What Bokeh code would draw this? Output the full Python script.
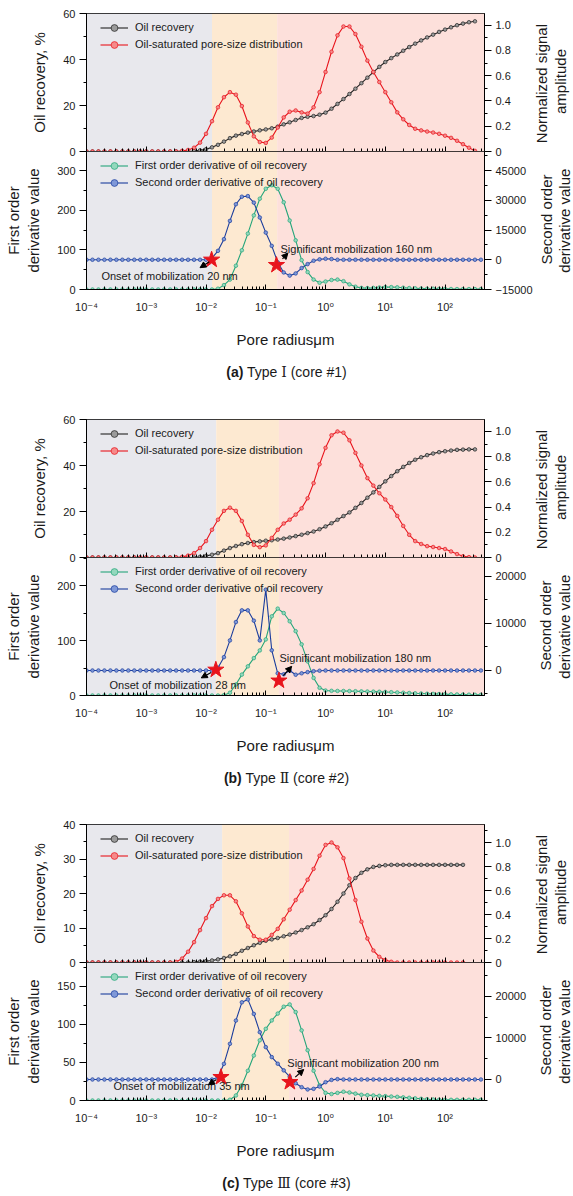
import math
import numpy as np
from bokeh.plotting import figure
from bokeh.models import (Range1d, LinearAxis, SingleIntervalTicker, FixedTicker, BoxAnnotation,
                          Legend, LegendItem, Arrow, NormalHead, CustomJSTickFormatter,
                          PrintfTickFormatter, Div)
from bokeh.layouts import column
from bokeh.embed import file_html
from bokeh.resources import INLINE
from bokeh.core.properties import value

N = None
# pore radius grid, log10(um)
LOG_R = [-4.0, -3.9, -3.8, -3.7, -3.6, -3.5, -3.4, -3.3, -3.2, -3.1,
         -3.0, -2.9, -2.8, -2.7, -2.6, -2.5, -2.4, -2.3, -2.2, -2.1,
         -2.0, -1.9, -1.8, -1.7, -1.6, -1.5, -1.4, -1.3, -1.2, -1.1,
         -1.0, -0.9, -0.8, -0.7, -0.6, -0.5, -0.4, -0.3, -0.2, -0.1,
         0.0, 0.1, 0.2, 0.3, 0.4, 0.5, 0.6, 0.7, 0.8, 0.9,
         1.0, 1.1, 1.2, 1.3, 1.4, 1.5, 1.6, 1.7, 1.8, 1.9,
         2.0, 2.1, 2.2, 2.3, 2.4, 2.5, 2.6]

# ---- core #1 ----
OR_A = [0, 0, 0, 0, 0, 0, 0, 0, 0, 0,
        0, 0, 0, 0, 0, 0, 0, 0, 0.2, 0.5,
        1.0, 1.8, 2.9, 4.3, 5.8, 6.9, 7.6, 8.2, 8.7, 9.2,
        9.6, 10.1, 10.8, 11.8, 12.7, 13.7, 14.6, 15.1, 15.4, 16.0,
        16.9, 18.6, 20.7, 22.8, 25.0, 27.3, 29.7, 32.1, 34.5, 36.8,
        38.9, 40.6, 42.2, 43.8, 45.4, 46.9, 48.3, 49.6, 50.8, 52.0,
        53.0, 54.0, 54.9, 55.6, 56.2, 56.6, N]
PSD_A = [0, 0, 0, 0, 0, 0, 0, 0, 0, 0,
         0, 0, 0, 0, 0, 0, 0.005, 0.012, 0.03, 0.07,
         0.14, 0.24, 0.35, 0.43, 0.47, 0.45, 0.36, 0.23, 0.12, 0.075,
         0.068, 0.11, 0.19, 0.27, 0.315, 0.325, 0.31, 0.30, 0.35, 0.47,
         0.63, 0.79, 0.92, 0.99, 0.99, 0.93, 0.83, 0.72, 0.63, 0.55,
         0.47, 0.39, 0.31, 0.255, 0.21, 0.18, 0.167, 0.158, 0.15, 0.14,
         0.125, 0.108, 0.085, 0.058, 0.03, 0.005, N]
D1_A = [0, 0, 0, 0, 0, 0, 0, 0, 0, 0,
        0, 0, 0, 0, 0, 0, 0, 0, 0, 0,
        0, 0, 2, 11, 25, 60, 99, 141, 187, 229,
        254, 263, 254, 220, 174, 124, 74, 44, 25, 17,
        20, 24, 25, 21, 13, 7, 4, 3.5, 4, 5,
        6, 6, 5.5, 4.5, 3.5, 3, 2.5, 2, 2, 1.5,
        1.5, 1.2, 1.0, 1.0, 1.0, 1.0, 1.0]
D2_A = [0, 0, 0, 0, 0, 0, 0, 0, 0, 0,
        0, 0, 0, 0, 0, 0, 0, 0, 0, 0,
        0, 840, 4500, 10400, 19600, 28000, 31800, 32100, 28800, 21300,
        13700, 7000, -1300, -6400, -8000, -6900, -4200, -2200, -500, 200,
        500, 350, 0, 0, 0, 0, 0, 0, 0, 0,
        0, 0, 0, 0, 0, 0, 0, 0, 0, 0,
        0, 0, 0, 0, 0, 0, 0]

# ---- core #2 ----
OR_B = [0, 0, 0, 0, 0, 0, 0, 0, 0, 0,
        0, 0, 0, 0, 0, 0, 0, 0, 0, 0.3,
        0.7, 1.2, 1.9, 3.0, 4.1, 5.0, 5.8, 6.3, 6.7, 7.0,
        7.3, 7.5, 7.8, 8.2, 8.7, 9.3, 9.9, 10.6, 11.3, 12.3,
        13.5, 14.9, 16.4, 18.0, 19.6, 21.6, 23.7, 26.0, 28.3, 30.7,
        33.1, 35.4, 37.5, 39.4, 41.1, 42.5, 43.6, 44.5, 45.2, 45.8,
        46.2, 46.5, 46.8, 46.9, 47.0, 47.0, N]
PSD_B = [0, 0, 0, 0, 0, 0, 0, 0, 0, 0,
         0, 0, 0, 0, 0, 0, 0.005, 0.015, 0.035, 0.075,
         0.13, 0.22, 0.30, 0.37, 0.395, 0.37, 0.29, 0.18, 0.10, 0.082,
         0.096, 0.155, 0.22, 0.27, 0.30, 0.34, 0.39, 0.47, 0.59, 0.74,
         0.87, 0.97, 1.0, 0.99, 0.93, 0.83, 0.73, 0.63, 0.57, 0.51,
         0.46, 0.40, 0.33, 0.25, 0.18, 0.13, 0.107, 0.09, 0.083, 0.075,
         0.067, 0.048, 0.027, 0.01, 0.003, 0.0, N]
D1_B = [0, 0, 0, 0, 0, 0, 0, 0, 0, 0,
        0, 0, 0, 0, 0, 0, 0, 0, 0, 0,
        0, 0, 0, 0.6, 5, 20, 38, 53, 68, 82,
        102, 144, 158, 150, 135, 117, 93, 62, 32, 14,
        9, 8.5, 8.3, 8.2, 8.0, 7.8, 7.5, 7.2, 7.0, 6.8,
        6.5, 6.0, 5.5, 5.0, 4.5, 4.0, 3.6, 3.2, 2.9, 2.6,
        2.4, 2.1, 1.9, 1.7, 1.5, 1.3, 1.2]
D2_B = [0, 0, 0, 0, 0, 0, 0, 0, 0, 0,
        0, 0, 0, 0, 0, 0, 0, 0, 0, 0,
        0, 0, 570, 2840, 6400, 10300, 12800, 12800, 10600, 6400,
        17200, 4300, -600, -800, 0, -900, -600, -350, -150, -50,
        0, 0, 0, 0, 0, 0, 0, 0, 0, 0,
        0, 0, 0, 0, 0, 0, 0, 0, 0, 0,
        0, 0, 0, 0, 0, 0, 0]

# ---- core #3 ----
OR_C = [0, 0, 0, 0, 0, 0, 0, 0, 0, 0,
        0, 0, 0, 0, 0, 0, 0, 0, 0.1, 0.25,
        0.4, 0.6, 0.9, 1.3, 1.8, 2.5, 3.4, 4.2, 5.0, 5.7,
        6.3, 6.7, 7.1, 7.6, 8.1, 8.7, 9.4, 10.2, 11.1, 12.3,
        13.7, 15.5, 17.6, 20.0, 22.4, 24.5, 26.0, 27.0, 27.7, 28.0,
        28.2, 28.3, 28.3, 28.3, 28.3, 28.3, 28.3, 28.3, 28.3, 28.3,
        28.3, 28.3, 28.3, 28.3, N, N, N]
PSD_C = [0, 0, 0, 0, 0, 0, 0, 0, 0, 0,
         0, 0, 0, 0, 0, 0.005, 0.033, 0.09, 0.17, 0.27,
         0.37, 0.47, 0.53, 0.56, 0.56, 0.51, 0.41, 0.30, 0.22, 0.19,
         0.19, 0.23, 0.28, 0.36, 0.44, 0.52, 0.60, 0.69, 0.78, 0.89,
         0.98, 1.0, 0.96, 0.87, 0.70, 0.52, 0.34, 0.20, 0.10, 0.047,
         0.02, 0.006, 0, 0, 0, 0, 0, 0, 0, 0,
         0, 0, 0, 0, N, N, N]
D1_C = [0, 0, 0, 0, 0, 0, 0, 0, 0, 0,
        0, 0, 0, 0, 0, 0, 0, 0, 0, 0,
        0, 0, 0, 0, 1, 6.6, 20, 39, 59, 79,
        94, 105, 114, 123, 126, 116, 92, 66, 39, 20,
        10, 8.5, 10, 11.5, 10.5, 9, 7.5, 7, 6.6, 6.1,
        5.7, 5.2, 4.8, 4.1, 3.5, 2.8, 2.2, 1.7, 1.3, 1.0,
        0.9, 0.9, 0.9, 0.9, 0.9, 0.9, 0.9]
D2_C = [0, 0, 0, 0, 0, 0, 0, 0, 0, 0,
        0, 0, 0, 0, 0, 0, 0, 0, 0, 0,
        0, 0, 560, 3780, 8600, 14200, 18600, 19300, 15800, 11400,
        7800, 5400, 3800, 2200, 700, -900, -1850, -2400, -2250, -1700,
        -650, -100, 80, 0, 0, 0, 0, 0, 0, 0,
        0, 0, 0, 0, 0, 0, 0, 0, 0, 0,
        0, 0, 0, 0, 0, 0, 0]

# zone boundaries (um), star points (x um, second-derivative value)
ZONE_A = [0.0126, 0.155]
ZONE_B = [0.0148, 0.166]
ZONE_C = [0.0186, 0.245]
STAR_A_X = [0.0124, 0.151]
STAR_A_Y = [0, -2700]
STAR_B_X = [0.0146, 0.166]
STAR_B_Y = [150, -2170]
STAR_C_X = [0.0178, 0.253]
STAR_C_Y = [570, -640]
NOTES_A = ["Onset of mobilization 20 nm", "Significant mobilization 160 nm"]
NOTES_B = ["Onset of mobilization 28 nm", "Significant mobilization 180 nm"]
NOTES_C = ["Onset of mobilization 35 nm", "Significant mobilization 200 nm"]

FONT = "Liberation Sans"
X_MAX = 457
MAJOR_X = [1e-4, 1e-3, 1e-2, 1e-1, 1, 10, 100]
MINOR_X = [k * 10.0 ** d for d in range(-4, 3) for k in range(2, 10) if k * 10.0 ** d < X_MAX]
GRAY, ORANGE, PINK = "#e8e8ed", "#fde9d1", "#fde0db"
C_BLACK, F_BLACK = "#222222", "#9b9b9b"
C_RED, F_RED = "#e8141c", "#f58a8a"
C_GREEN, F_GREEN = "#25a57a", "#93d8bd"
C_BLUE, F_BLUE = "#1b3d9d", "#7f98d8"
TXT = "#1a1a1a"
NB = "\u00a0"
PAGE_W = 573
EXTRA = 40          # empty slack right of the window so the right-axis title keeps the frame width
FIG_W = PAGE_W + EXTRA

x = 10.0 ** np.array(LOG_R)

_props = LinearAxis.properties()
CAN_ORIENT = "axis_label_orientation" in _props and "axis_label_align" in _props


def arr(v):
    return np.array([np.nan if a is None else a for a in v], dtype=float)


SUP_JS = """
const e = Math.round(Math.log10(tick));
const sup = {'-': '\u207b', '0': '\u2070', '1': '\u00b9', '2': '\u00b2', '3': '\u00b3',
             '4': '\u2074', '5': '\u2075', '6': '\u2076', '7': '\u2077', '8': '\u2078', '9': '\u2079'};
return '10' + String(e).split('').map(c => sup[c]).join('');
"""


def base(height, top, bottom, y_end, r_range, margin=None):
    kw = dict(width=FIG_W, height=height, x_axis_type="log", x_range=Range1d(1e-4, X_MAX),
              y_range=Range1d(0, y_end), output_backend="svg", toolbar_location=None,
              min_border_left=86, min_border_right=89 + EXTRA,
              min_border_top=top, min_border_bottom=bottom)
    if margin is not None:
        kw["margin"] = margin
    p = figure(**kw)
    p.extra_y_ranges = {"r": Range1d(*r_range)}
    p.grid.visible = False
    p.outline_line_color = "black"
    p.outline_line_alpha = 1.0
    p.outline_line_width = 1
    p.border_fill_color = None
    p.background_fill_color = "white"
    return p


def zones(p, z):
    for l, r, c in [(1e-4, z[0], GRAY), (z[0], z[1], ORANGE), (z[1], X_MAX, PINK)]:
        p.add_layout(BoxAnnotation(left=l, right=r, fill_color=c, fill_alpha=1.0,
                                   line_color=None, level="underlay"))


def style(ax):
    ax.axis_line_color = "black"
    ax.major_tick_line_color = "black"
    ax.minor_tick_line_color = "black"
    ax.major_label_text_font = FONT
    ax.major_label_text_font_size = "11px"
    ax.major_label_text_color = TXT
    ax.axis_label_text_font = FONT
    ax.axis_label_text_font_size = "15px"
    ax.axis_label_text_font_style = "normal"
    ax.axis_label_text_color = TXT


def y_axes(p, step_l, step_r, label, r_lines, r_pad, r_standoff, overrides, r_fmt=None):
    ax = p.yaxis[0]
    style(ax)
    ax.ticker = SingleIntervalTicker(interval=step_l, num_minor_ticks=2)
    ax.major_tick_out, ax.major_tick_in = 7, 0
    ax.minor_tick_out, ax.minor_tick_in = 3, 0
    ax.major_label_standoff = 4
    ax.axis_label = label
    ax.axis_label_standoff = 12
    ra = LinearAxis(y_range_name="r", ticker=SingleIntervalTicker(interval=step_r, num_minor_ticks=2),
                    major_label_overrides=overrides)
    if r_fmt is not None:
        ra.formatter = r_fmt
    style(ra)
    ra.major_tick_out, ra.major_tick_in = 7, 0
    ra.minor_tick_out, ra.minor_tick_in = 3, 0
    ra.major_label_standoff = 4
    ra.axis_label_text_line_height = 1.1
    if CAN_ORIENT:
        # reads bottom-to-top like the reference; lines start at the frame bottom
        ra.axis_label = "\n".join(NB * n + s for s, n in zip(r_lines, r_pad))
        ra.axis_label_orientation = math.pi / 2
        ra.axis_label_align = "start"
        ra.axis_label_standoff = r_standoff
    else:
        ra.axis_label = "\n".join(r_lines)
        ra.axis_label_standoff = 8
    p.add_layout(ra, "right")


def series(p, yv, color, fill, rname="default"):
    ya = arr(yv)
    l = p.line(x, ya, line_color=color, line_width=1.1, y_range_name=rname)
    s = p.scatter(x, ya, size=3.6, fill_color=fill, line_color=color, line_width=0.7, y_range_name=rname)
    return [l, s]


def legend(p, items):
    lg = Legend(items=[LegendItem(label=t, renderers=r) for t, r in items],
                location=(14, 98.5), padding=0, margin=0, spacing=0,
                glyph_width=28, glyph_height=17, label_height=17, label_standoff=7,
                label_text_font=FONT, label_text_font_size="11px", label_text_color=TXT,
                border_line_color=None, background_fill_alpha=0)
    p.add_layout(lg)


def caption(tag, numeral, core, height):
    html = ('<div style="width:573px;text-align:center;font-family:\'Liberation Sans\',sans-serif;'
            'font-size:14px;line-height:18px;padding-top:12px;color:#1a1a1a">'
            '<b>%s</b> Type <span style="font-family:\'DejaVu Serif\',\'Liberation Serif\',serif">%s</span>'
            ' (%s)</div>' % (tag, numeral, core))
    return Div(text=html, width=PAGE_W, height=height, margin=(0, 0, 0, 0))


PAIRS = [
    dict(tag="(a)", num="\u2160", core="core #1", oil=OR_A, psd=PSD_A, d1=D1_A, d2=D2_A,
         tl=(60, 20), tr=1.093, bl=(348, 100), br=(-15000, 54600, 15000), rs=20,
         zone=ZONE_A, sx=STAR_A_X, sy=STAR_A_Y, notes=NOTES_A,
         note_pos=[(10 ** -3.75, 35), (10 ** -0.754, 101)],
         arrows=[((10 ** -1.945, 70), (10 ** -2.10, 55)), ((10 ** -0.72, 77), (10 ** -0.63, 92))],
         cap_h=55),
    dict(tag="(b)", num="\u2161", core="core #2", oil=OR_B, psd=PSD_B, d1=D1_B, d2=D2_B,
         tl=(60, 20), tr=1.095, bl=(251, 100), br=(-5320, 24040, 10000), rs=26,
         zone=ZONE_B, sx=STAR_B_X, sy=STAR_B_Y, notes=NOTES_B,
         note_pos=[(10 ** -3.615, 18.2), (10 ** -0.77, 67.3)],
         arrows=[((10 ** -1.915, 42), (10 ** -2.08, 32)), ((10 ** -0.707, 36), (10 ** -0.567, 53))],
         cap_h=54),
    dict(tag="(c)", num="\u2162", core="core #3", oil=OR_C, psd=PSD_C, d1=D1_C, d2=D2_C,
         tl=(40, 10), tr=1.15, bl=(181, 50), br=(-5060, 28190, 10000), rs=26,
         zone=ZONE_C, sx=STAR_C_X, sy=STAR_C_Y, notes=NOTES_C,
         note_pos=[(10 ** -3.55, 18.5), (10 ** -0.64, 49.8)],
         arrows=[((10 ** -1.825, 27.6), (10 ** -1.96, 20.6)), ((10 ** -0.506, 30.6), (10 ** -0.365, 40.7))],
         cap_h=34),
]

items = []
for cfg in PAIRS:
    # ---------- top panel ----------
    t = base(158, 13, 7, cfg["tl"][0], (0, cfg["tr"]))
    zones(t, cfg["zone"])
    y_axes(t, cfg["tl"][1], 0.2, "Oil recovery, %", ["Normalized signal", "amplitude"], [2, 9], 37,
           {0: "0"}, PrintfTickFormatter(format="%.1f"))
    xa = t.xaxis[0]
    style(xa)
    xa.ticker = FixedTicker(ticks=MAJOR_X, minor_ticks=MINOR_X)
    xa.formatter = CustomJSTickFormatter(code="return '';")
    xa.major_label_text_font_size = "0px"
    xa.major_label_standoff = 0
    xa.major_tick_in, xa.major_tick_out = 5, 0
    xa.minor_tick_in, xa.minor_tick_out = 3, 0
    r_oil = series(t, cfg["oil"], C_BLACK, F_BLACK)
    r_psd = series(t, cfg["psd"], C_RED, F_RED, "r")
    legend(t, [("Oil recovery", r_oil), ("Oil-saturated pore-size distribution", r_psd)])

    # ---------- bottom panel ----------
    b = base(200, 0, 62, cfg["bl"][0], cfg["br"][:2], margin=(-7, 0, 0, 0))
    zones(b, cfg["zone"])
    ov = {-15000: "\u221215000"} if cfg["br"][0] <= -15000 else {}
    y_axes(b, cfg["bl"][1], cfg["br"][2], "First order\nderivative value",
           ["Second order", "derivative value"], [6, 4], cfg["rs"], ov)
    xb = b.xaxis[0]
    style(xb)
    xb.ticker = FixedTicker(ticks=MAJOR_X, minor_ticks=MINOR_X)
    xb.formatter = CustomJSTickFormatter(code=SUP_JS)
    xb.major_label_text_font = "Liberation Sans, DejaVu Sans"
    xb.major_tick_in, xb.major_tick_out = 5, 0
    xb.minor_tick_in, xb.minor_tick_out = 3, 0
    xb.major_label_standoff = 11
    xb.axis_label = "Pore radius\u03bcm"
    xb.axis_label_standoff = 15
    r_d1 = series(b, cfg["d1"], C_GREEN, F_GREEN)
    r_d2 = series(b, cfg["d2"], C_BLUE, F_BLUE, "r")
    legend(b, [("First order derivative of oil recovery", r_d1),
               ("Second order derivative of oil recovery", r_d2)])
    b.scatter(cfg["sx"], cfg["sy"], marker="star", size=17, fill_color=C_RED, line_color=C_RED,
              y_range_name="r")
    for (x0, y0), (x1, y1) in cfg["arrows"]:
        b.add_layout(Arrow(end=NormalHead(size=6, fill_color="black", line_color="black", line_width=1),
                           x_start=x0, y_start=y0, x_end=x1, y_end=y1,
                           line_color="black", line_width=1.2))
    b.text(x=[q[0] for q in cfg["note_pos"]], y=[q[1] for q in cfg["note_pos"]], text=cfg["notes"],
           text_font=value(FONT), text_font_size="11px", text_color=TXT,
           text_baseline="middle", text_align="left")
    items += [t, b, caption(cfg["tag"], cfg["num"], cfg["core"], cfg["cap_h"])]

layout = column(*items, spacing=0)
open("out.html", "w").write(file_html(layout, INLINE, title="Oil recovery and pore-size distribution"))
